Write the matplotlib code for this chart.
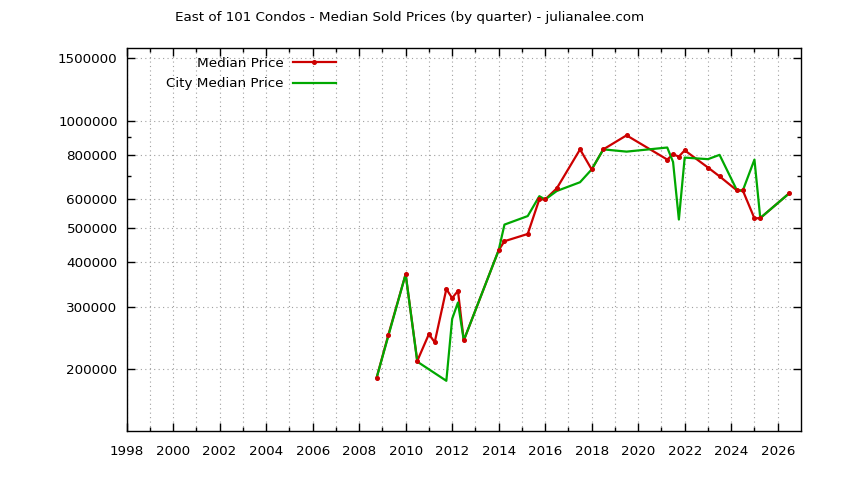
import matplotlib
matplotlib.use("Agg")
from matplotlib import pyplot as plt
from matplotlib.ticker import FixedLocator, NullFormatter, FuncFormatter

# quarterly median sold prices, East of 101 condos
median_years = [2008.75, 2009.25, 2010.0, 2010.5, 2011.0, 2011.25, 2011.75, 2012.0,
                2012.25, 2012.5, 2014.0, 2014.25, 2015.25, 2015.75, 2016.0, 2016.5,
                2017.5, 2018.0, 2018.5, 2019.5, 2021.25, 2021.5, 2021.75, 2022.0,
                2023.0, 2023.5, 2024.25, 2024.5, 2025.0, 2025.25, 2026.5]
median_price = [189000, 249000, 370000, 211000, 251000, 238000, 336000, 317000,
                332000, 241000, 432000, 458000, 480000, 601000, 600000, 645000,
                830000, 729000, 830000, 909000, 777000, 804000, 792000, 825000,
                738000, 697000, 636000, 636000, 531000, 532000, 625000]

# city-wide median
city_years = [2008.75, 2010.0, 2010.5, 2011.75, 2012.0, 2012.25, 2012.5, 2014.0,
              2014.25, 2015.25, 2015.75, 2016.0, 2016.5, 2017.5, 2018.0, 2018.5,
              2019.5, 2021.25, 2021.5, 2021.75, 2022.0, 2023.0, 2023.5, 2024.25,
              2024.5, 2025.0, 2025.25, 2026.5]
city_price = [189000, 370000, 210000, 185500, 277000, 308000, 241000, 432000,
              510000, 539000, 613000, 600000, 634000, 671000, 729000, 830000,
              818000, 840000, 765000, 527000, 787000, 779000, 801000, 636000,
              636000, 777000, 532000, 625000]

year_ticks = list(range(1998, 2027, 2))
price_ticks = [200000, 300000, 400000, 500000, 600000, 800000, 1000000, 1500000]
price_minor = [700000, 900000]

RED = "#cc0000"
GREEN = "#00a800"

fig = plt.figure(figsize=(8.44, 4.8), dpi=100)
ax = fig.add_axes([0.150, 0.102, 0.799, 0.798])

ax.plot(median_years, median_price, color=RED, lw=1.6, zorder=3)
ax.plot(city_years, city_price, color=GREEN, lw=1.6, zorder=4)
ax.plot(median_years, median_price, ls="none", marker="o", ms=2.6, color=RED, zorder=5)

# legend handles (line + marker for the red series)
h1, = ax.plot([], [], color=RED, lw=1.6, marker="o", ms=2.6, markevery=[1])
h2, = ax.plot([], [], color=GREEN, lw=1.6)

ax.set_yscale("log")
ax.set_xlim(1998, 2027)
ax.set_ylim(134000, 1600000)

ax.xaxis.set_major_locator(FixedLocator(year_ticks))
ax.xaxis.set_minor_locator(FixedLocator(list(range(1999, 2027, 2))))
ax.yaxis.set_major_locator(FixedLocator(price_ticks))
ax.yaxis.set_major_formatter(FuncFormatter(lambda v, p: "%d" % round(v)))
ax.yaxis.set_minor_locator(FixedLocator(price_minor))
ax.yaxis.set_minor_formatter(NullFormatter())

ax.tick_params(which="both", direction="in", top=True, right=True, width=1, color="black")
ax.tick_params(which="major", length=6)
ax.tick_params(which="minor", length=3)
ax.tick_params(axis="x", which="major", pad=10, labelsize=9.7)
ax.tick_params(axis="y", which="major", pad=6.5, labelsize=9.7)

ax.grid(True, which="major", axis="both", color="#a0a0a0", lw=0.8, ls=(0, (1, 3)))
ax.grid(True, which="minor", axis="x", color="#a0a0a0", lw=0.8, ls=(0, (1, 3)))
for s in ax.spines.values():
    s.set_linewidth(1)
    s.set_color("black")

fig.legend([h1, h2], ["Median Price", "City Median Price"], loc="upper right",
           bbox_to_anchor=(336 / 844, 1 - 57 / 480), frameon=False, markerfirst=False,
           fontsize=9.7, handlelength=3.2, handletextpad=0.7, labelspacing=0.55,
           borderpad=0, borderaxespad=0)

fig.text(410 / 844, 1 - 18 / 480,
         "East of 101 Condos - Median Sold Prices (by quarter) - julianalee.com",
         ha="center", va="center", fontsize=9.7)

fig.savefig("out.png", dpi=100)
